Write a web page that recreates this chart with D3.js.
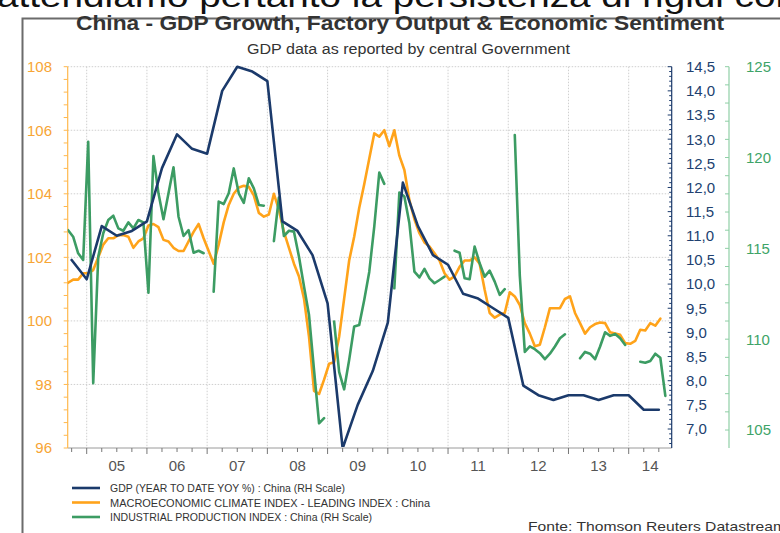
<!DOCTYPE html>
<html><head><meta charset="utf-8">
<script src="https://cdn.jsdelivr.net/npm/d3@7"></script>
<style>
body{margin:0;background:#fff;overflow:hidden;}
svg{display:block;font-family:"Liberation Sans",Arial,sans-serif;}
</style>
</head><body>
<svg id="chart" width="780" height="533"></svg>
<script>
// ---------- DATA ----------
const yearLabels = ["05","06","07","08","09","10","11","12","13","14"];
const gdpQuarters = ["2004-Q3","2004-Q4",
 "2005-Q1","2005-Q2","2005-Q3","2005-Q4",
 "2006-Q1","2006-Q2","2006-Q3","2006-Q4",
 "2007-Q1","2007-Q2","2007-Q3","2007-Q4",
 "2008-Q1","2008-Q2","2008-Q3","2008-Q4",
 "2009-Q1","2009-Q2","2009-Q3","2009-Q4",
 "2010-Q1","2010-Q2","2010-Q3","2010-Q4",
 "2011-Q1","2011-Q2","2011-Q3","2011-Q4",
 "2012-Q1","2012-Q2","2012-Q3","2012-Q4",
 "2013-Q1","2013-Q2","2013-Q3","2013-Q4",
 "2014-Q1","2014-Q2"];
const gdpValues = [10.5,10.1,
 11.2,11.0,11.1,11.3,
 12.4,13.1,12.8,12.7,
 14.0,14.5,14.4,14.2,
 11.3,11.1,10.6,9.6,
 6.6,7.5,8.2,9.2,
 12.1,11.2,10.6,10.4,
 9.8,9.7,9.5,9.3,
 7.9,7.7,7.6,7.7,
 7.7,7.6,7.7,7.7,
 7.4,7.4];

const firstMonth = "2004-09";
// Macroeconomic climate index - leading index (left scale), monthly from Sep 2004
const climateValues = [
 101.2,101.3,101.3,101.5,
 101.5,101.6,102.0,102.4,102.6,102.6,102.7,102.7,102.65,102.3,102.5,102.6,
 103.0,103.05,102.95,102.55,102.5,102.3,102.2,102.2,102.5,102.8,103.05,102.6,
 102.2,101.8,102.4,103.1,103.65,104.0,104.2,104.25,104.22,103.95,103.4,103.28,
 103.35,104.0,103.5,102.8,102.3,101.8,101.4,100.7,99.5,97.8,97.7,98.15,
 98.65,98.7,99.5,100.7,101.9,102.65,103.55,104.3,105.1,105.9,105.8,106.0,
 105.5,106.0,105.2,104.75,103.8,103.2,102.76,102.47,102.34,102.13,101.9,101.5,
 101.3,101.4,101.7,101.9,101.9,102.0,101.8,100.98,100.25,100.1,100.2,100.25,
 100.9,100.77,100.5,99.93,99.6,99.2,99.25,99.8,100.4,100.4,100.4,100.69,
 100.77,100.25,99.93,99.6,99.8,99.9,99.95,99.93,99.64,99.6,99.56,99.3,
 99.28,99.37,99.72,99.7,99.93,99.85,100.07];
// Industrial production index (RH scale), monthly from Sep 2004, null = no data
const industrialValues = [
 116.0,115.64,114.73,114.36,
 120.87,107.58,114.54,115.83,116.56,116.8,116.1,115.97,116.43,116.1,116.56,116.43,
 112.56,120.08,118.03,116.6,118.03,119.46,116.74,115.68,116.0,114.76,114.87,114.73,
 null,112.62,117.57,117.44,118.03,119.4,118.03,117.5,118.86,118.3,117.39,117.35,
 null,115.4,117.8,115.68,115.97,115.92,114.54,112.9,111.33,108.3,105.37,105.65,
 null,110.97,108.2,107.24,108.86,110.7,110.78,112.16,113.7,116.2,119.17,118.55,
 null,112.8,118.07,117.85,116.38,113.72,113.4,113.87,113.35,113.08,113.26,113.44,
 null,114.87,114.76,113.35,113.3,115.1,114.18,113.44,113.77,113.17,112.44,112.75,
 null,121.24,113.5,109.3,109.6,109.45,109.23,108.9,109.2,109.6,110.05,110.27,
 null,null,108.95,109.3,109.2,108.9,109.6,110.38,110.18,110.29,110.05,109.68,
 null,null,108.76,108.7,108.8,109.2,108.98,106.88];

const leftTicks = [96,98,100,102,104,106,108];
const gdpTicks = [7.0,7.5,8.0,8.5,9.0,9.5,10.0,10.5,11.0,11.5,12.0,12.5,13.0,13.5,14.0,14.5];
const ipTicks = [105,110,115,120,125];

const seriesNames = [
 "GDP (YEAR TO DATE YOY %) : China (RH Scale)",
 "MACROECONOMIC CLIMATE INDEX - LEADING INDEX : China",
 "INDUSTRIAL PRODUCTION INDEX : China (RH Scale)"];
const colors = {gdp:"#1b3a6b", climate:"#ffa31a", ip:"#3c9c63"};

// ---------- HELPERS ----------
const toYear = d => d.getFullYear() + d.getMonth()/12 + (d.getDate()-1)/365;
const parseQ = s => { const [y,q]=s.split("-Q"); return +y + (+q)/4; };
const m0 = d3.timeParse("%Y-%m")(firstMonth);
const monthYear = i => toYear(d3.timeMonth.offset(m0, i)) + 0.3/12;

// ---------- LAYOUT ----------
const svg = d3.select("#chart");
const P = {l:67.7, r:671.7, t:66.7, b:448};
const x = d3.scaleLinear().domain([2004.6845, 2014.714]).range([P.l, P.r]);
const yL = d3.scaleLinear().domain([96,108]).range([P.b, P.t]);
const yG = d3.scaleLinear().domain([6.607,14.5]).range([P.b, P.t]);
const yI = d3.scaleLinear().domain([104.01,125]).range([P.b, P.t]);

// top cut-off text and frame
svg.append("text").attr("x",-3).attr("y",7).attr("font-size",31).attr("fill","#111")
  .attr("textLength",800).attr("lengthAdjust","spacingAndGlyphs")
  .text("attendiamo pertanto la persistenza di rigidi con");
svg.append("rect").attr("x",0).attr("y",17).attr("width",780).attr("height",516).attr("fill","#fff");
svg.append("path").attr("d","M22.5,533V18.5H780").attr("fill","none").attr("stroke","#6b6b6b").attr("stroke-width",2);

// titles
svg.append("text").attr("x",400).attr("y",30).attr("text-anchor","middle")
  .attr("font-size",19.5).attr("font-weight","bold").attr("fill","#333")
  .attr("textLength",648).attr("lengthAdjust","spacingAndGlyphs")
  .text("China - GDP Growth, Factory Output & Economic Sentiment");
svg.append("text").attr("x",408.5).attr("y",54).attr("text-anchor","middle")
  .attr("font-size",14).attr("fill","#333")
  .attr("textLength",323).attr("lengthAdjust","spacingAndGlyphs")
  .text("GDP data as reported by central Government");

// gridlines
const grid = svg.append("g").attr("stroke","#cfcfcf").attr("stroke-dasharray","1.5,1.5").attr("stroke-width",1);
leftTicks.filter(v=>v>96).forEach(v=>{
  grid.append("line").attr("x1",P.l).attr("x2",P.r).attr("y1",yL(v)).attr("y2",yL(v));
});
d3.range(2005,2015).forEach(yr=>{
  grid.append("line").attr("x1",x(yr)).attr("x2",x(yr)).attr("y1",P.t).attr("y2",P.b);
});

// x axis
const xa = svg.append("g");
xa.append("line").attr("x1",P.l).attr("x2",P.r).attr("y1",P.b).attr("y2",P.b).attr("stroke","#9a9a9a");
d3.range(2004.75, 2014.72, 0.25).forEach(q=>{
  const isY = Math.abs(q-Math.round(q))<1e-6;
  xa.append("line").attr("x1",x(q)).attr("x2",x(q)).attr("y1",P.b).attr("y2",P.b+(isY?6:4)).attr("stroke","#777");
});
yearLabels.forEach((lab,i)=>{
  const yr = 2005+i;
  const cx = (x(yr)+Math.min(x(yr+1),P.r))/2;
  xa.append("text").attr("x",cx).attr("y",471).attr("text-anchor","middle")
    .attr("font-size",15).attr("fill","#555").text(lab);
});

// left axis
const la = svg.append("g");
la.append("line").attr("x1",P.l).attr("x2",P.l).attr("y1",P.t).attr("y2",P.b).attr("stroke","#ffb84d").attr("stroke-width",1.2);
d3.range(96,108.01,0.4).forEach(v=>{
  la.append("line").attr("x1",P.l-4).attr("x2",P.l).attr("y1",yL(v)).attr("y2",yL(v)).attr("stroke","#ffb84d");
});
leftTicks.forEach(v=>{
  la.append("text").attr("x",52).attr("y",yL(v)).attr("dy","0.36em").attr("text-anchor","end")
    .attr("font-size",15).attr("fill","#f7a535").text(v);
});

// GDP axis
const ga = svg.append("g");
ga.append("line").attr("x1",P.r).attr("x2",P.r).attr("y1",P.t).attr("y2",P.b).attr("stroke","#1b3a6b").attr("stroke-width",1.2);
d3.range(6.7,14.51,0.1).forEach(v=>{
  const major = Math.abs(v*2-Math.round(v*2))<1e-6;
  ga.append("line").attr("x1",P.r-(major?4:2.5)).attr("x2",P.r).attr("y1",yG(v)).attr("y2",yG(v)).attr("stroke","#1b3a6b");
});
const fmtG = v => d3.format(".1f")(v).replace(".",",");
gdpTicks.forEach(v=>{
  ga.append("text").attr("x",686).attr("y",yG(v)).attr("dy","0.36em")
    .attr("font-size",15).attr("fill","#21416f").text(fmtG(v));
});

// IP axis
const ia = svg.append("g");
const IX = 729;
ia.append("line").attr("x1",IX).attr("x2",IX).attr("y1",P.t).attr("y2",P.b).attr("stroke","#8fcfa6").attr("stroke-width",1.2);
d3.range(105,125.01,1).forEach(v=>{
  ia.append("line").attr("x1",IX-4).attr("x2",IX).attr("y1",yI(v)).attr("y2",yI(v)).attr("stroke","#8fcfa6");
});
ipTicks.forEach(v=>{
  ia.append("text").attr("x",746).attr("y",yI(v)).attr("dy","0.36em")
    .attr("font-size",15).attr("fill","#3ea467").text(v);
});

// clip
svg.append("clipPath").attr("id","plot").append("rect")
  .attr("x",P.l).attr("y",P.t-2).attr("width",P.r-P.l).attr("height",P.b-P.t+1);

const climate = climateValues.map((v,i)=>({x:monthYear(i), v}));
const ip = industrialValues.map((v,i)=>({x:monthYear(i), v}));
const gdp = gdpValues.map((v,i)=>({x:parseQ(gdpQuarters[i]), v}));

const lines = svg.append("g").attr("clip-path","url(#plot)").attr("fill","none")
  .attr("stroke-width",2.6).attr("stroke-linejoin","round").attr("stroke-linecap","round");
lines.append("path").attr("stroke",colors.climate)
  .attr("d", d3.line().defined(d=>d.v!=null).x(d=>x(d.x)).y(d=>yL(d.v))(climate));
lines.append("path").attr("stroke",colors.ip)
  .attr("d", d3.line().defined(d=>d.v!=null).x(d=>x(d.x)).y(d=>yI(d.v))(ip));
lines.append("path").attr("stroke",colors.gdp)
  .attr("d", d3.line().x(d=>x(d.x)).y(d=>yG(d.v))(gdp));

// legend
const leg = svg.append("g");
const legColors = [colors.gdp, colors.climate, colors.ip];
const legW = [235, 320, 262];
seriesNames.forEach((name,i)=>{
  const cy = 488 + i*14.5;
  leg.append("line").attr("x1",72).attr("x2",100).attr("y1",cy).attr("y2",cy)
    .attr("stroke",legColors[i]).attr("stroke-width",2.6);
  leg.append("text").attr("x",110).attr("y",cy).attr("dy","0.36em").attr("font-size",11.5)
    .attr("fill","#333").attr("textLength",legW[i]).attr("lengthAdjust","spacingAndGlyphs").text(name);
});
svg.append("text").attr("x",528).attr("y",531).attr("font-size",13.5).attr("fill","#333")
  .attr("textLength",258).attr("lengthAdjust","spacingAndGlyphs")
  .text("Fonte: Thomson Reuters Datastream");
</script>
</body></html>
